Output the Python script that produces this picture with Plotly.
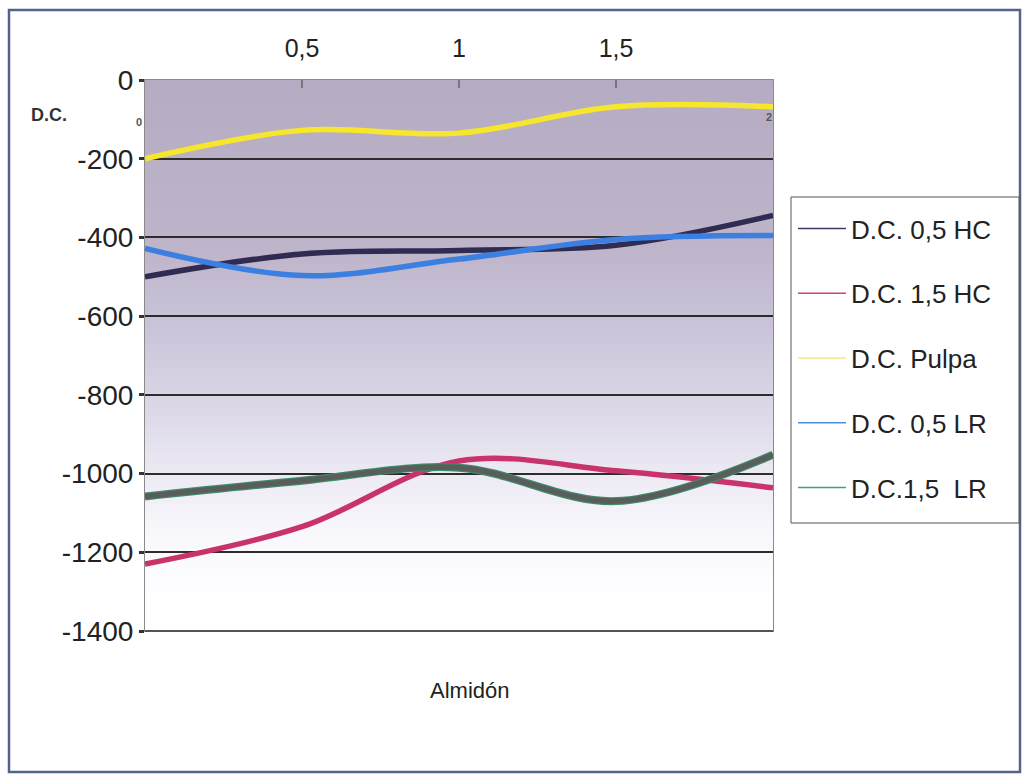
import plotly.graph_objects as go

# Almidón levels (x) and D.C. readings for each series
almidon = [0, 0.5, 1, 1.5, 2]
dc_05_hc = [-500, -442, -433, -420, -344]
dc_15_hc = [-1230, -1135, -968, -993, -1036]
dc_pulpa = [-200, -128, -135, -68, -68]
dc_05_lr = [-428, -497, -455, -405, -395]
dc_15_lr = [-1058, -1018, -985, -1070, -952]

series_names = ["D.C. 0,5 HC", "D.C. 1,5 HC", "D.C. Pulpa", "D.C. 0,5 LR", "D.C.1,5  LR"]

x_tick_vals = [0.5, 1, 1.5]
x_tick_text = ["0,5", "1", "1,5"]
y_tick_vals = [0, -200, -400, -600, -800, -1000, -1200, -1400]
y_tick_text = ["0", "-200", "-400", "-600", "-800", "-1000", "-1200", "-1400"]
y_grid_vals = [-200, -400, -600, -800, -1000, -1200]

FONT = "Liberation Sans, Arial, sans-serif"
W, H = 1023, 774
L, R, T, B = 145, 250, 80, 143          # plot area: x 145..773, y 80..631
PW, PH = W - L - R, H - T - B


def px_x(p):
    return (p - L) / PW


def px_y(p):
    return (H - B - p) / PH


fig = go.Figure()

line_colors = ["#2f2b52", "#c8336b", "#f6e62c", "#3b7fe0", "#5a5e5a"]
legend_colors = ["#3d3a6a", "#d0407a", "#f2ea80", "#4a8ee0", "#3aa383"]
data = [dc_05_hc, dc_15_hc, dc_pulpa, dc_05_lr, dc_15_lr]

for i, (vals, col) in enumerate(zip(data, line_colors)):
    if i == 4:
        # green rim under the dark core of the last series
        fig.add_trace(go.Scatter(x=almidon, y=vals, mode="lines",
                                 line=dict(color="#3f8a6a", width=8, shape="spline", smoothing=1),
                                 showlegend=False, hoverinfo="skip"))
    fig.add_trace(go.Scatter(x=almidon, y=vals, mode="lines",
                             line=dict(color=col, width=5.5, shape="spline", smoothing=1),
                             showlegend=False, name=series_names[i]))

# thin legend samples
for i, name in enumerate(series_names):
    fig.add_trace(go.Scatter(x=[None], y=[None], mode="lines", name=name,
                             legendgroup=name,
                             line=dict(color=legend_colors[i], width=1.5)))

# invisible trace to activate the overlay grid axis
fig.add_trace(go.Scatter(x=[None], y=[None], yaxis="y2", showlegend=False))

# vertical gradient in the plot area
stops = [(80, (181, 171, 194)), (250, (190, 181, 203)), (330, (203, 196, 217)),
         (400, (218, 213, 230)), (460, (233, 230, 241)), (520, (246, 245, 250)),
         (580, (253, 253, 255)), (631, (255, 255, 255))]


def color_at(p):
    for (p0, c0), (p1, c1) in zip(stops[:-1], stops[1:]):
        if p0 <= p <= p1:
            t = (p - p0) / (p1 - p0)
            return "rgb(%d,%d,%d)" % tuple(round(a + (b - a) * t) for a, b in zip(c0, c1))
    return "rgb(255,255,255)"


shapes = []
step = 4
p = 80
while p < 631:
    q = min(p + step, 631)
    shapes.append(dict(type="rect", xref="paper", yref="paper", x0=0, x1=1,
                       y0=px_y(q), y1=px_y(p), fillcolor=color_at((p + q) / 2),
                       line=dict(width=0), layer="below"))
    p = q

# bottom axis line
shapes.append(dict(type="line", xref="paper", yref="paper", x0=0, x1=1, y0=0, y1=0,
                   line=dict(color="#555555", width=2)))
# outer frame
shapes.append(dict(type="rect", xref="paper", yref="paper",
                   x0=px_x(9), x1=px_x(1020), y0=px_y(772), y1=px_y(10),
                   line=dict(color="#53638a", width=2.5), layer="below"))
# legend box
shapes.append(dict(type="rect", xref="paper", yref="paper",
                   x0=px_x(791), x1=px_x(1019), y0=px_y(523), y1=px_y(197),
                   fillcolor="white", line=dict(color="#555555", width=1), layer="below"))

annotations = [
    dict(text="Almidón", xref="paper", yref="paper", x=px_x(469), y=px_y(690),
         xanchor="center", yanchor="middle",
         showarrow=False, font=dict(family=FONT, size=22, color="#222222")),
    dict(text="<b>D.C.</b>", xref="paper", yref="paper", x=px_x(49), y=px_y(115),
         xanchor="center", yanchor="middle",
         showarrow=False, font=dict(family=FONT, size=18, color="#333333")),
    dict(text="<b>0</b>", xref="paper", yref="paper", x=px_x(139), y=px_y(122),
         xanchor="center", yanchor="middle",
         showarrow=False, font=dict(family=FONT, size=11, color="#555555")),
    dict(text="<b>2</b>", xref="paper", yref="paper", x=px_x(769), y=px_y(117),
         xanchor="center", yanchor="middle",
         showarrow=False, font=dict(family=FONT, size=11, color="#555555")),
]

fig.update_layout(
    width=W, height=H,
    margin=dict(l=L, r=R, t=T, b=B),
    paper_bgcolor="white",
    plot_bgcolor="rgba(0,0,0,0)",
    font=dict(family=FONT, color="#222222"),
    xaxis=dict(range=[0, 2], side="top", tickvals=x_tick_vals, ticktext=x_tick_text,
               ticks="inside", ticklen=8, tickcolor="#777777", tickwidth=1.5,
               ticklabelstandoff=12,
               showgrid=False, zeroline=False, showline=True, mirror=True,
               linecolor="#8a8a8a", linewidth=1,
               tickfont=dict(family=FONT, size=25, color="#222222")),
    yaxis=dict(range=[-1400, 0], tickvals=y_tick_vals, ticktext=y_tick_text,
               ticks="outside", ticklen=5,
               tickwidth=2.5, tickcolor="#333333", showgrid=False, zeroline=False,
               showline=True, mirror=True, linecolor="#8a8a8a", linewidth=1,
               tickfont=dict(family=FONT, size=28, color="#222222")),
    yaxis2=dict(range=[-1400, 0], overlaying="y", tickvals=y_grid_vals,
                showticklabels=False, showgrid=True, gridcolor="#2c2c2c",
                gridwidth=1.6, zeroline=False, showline=False),
    legend=dict(x=px_x(793), y=px_y(205), xanchor="left", yanchor="top",
                bgcolor="rgba(0,0,0,0)", borderwidth=0,
                font=dict(family=FONT, size=26, color="#222222"),
                tracegroupgap=28, itemwidth=48),
    shapes=shapes,
    annotations=annotations,
)

fig.write_html("out.html")
